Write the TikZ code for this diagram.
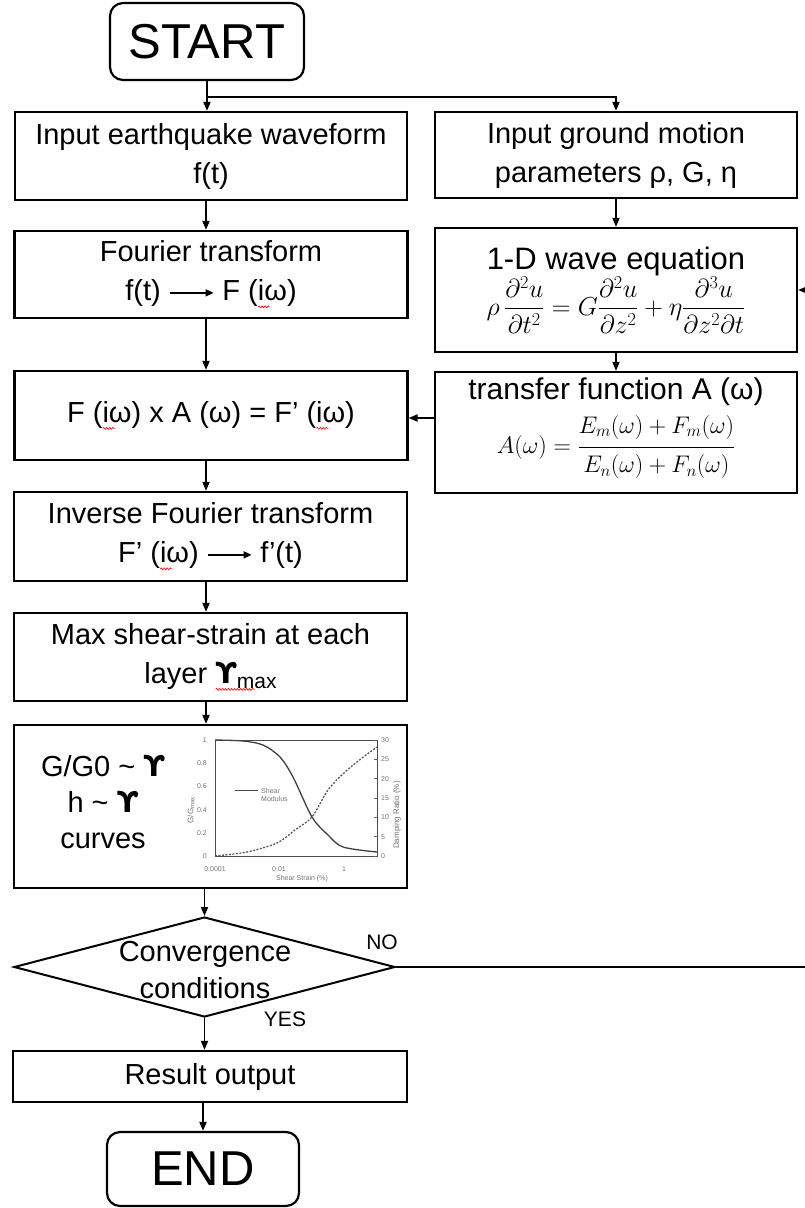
\documentclass[tikz,border=0pt]{standalone}
\usepackage{fix-cm}
\usepackage{amsmath}
\usepackage{fontspec}
\setmainfont{Liberation Sans}
\newfontfamily\djv{DejaVu Sans}
\usetikzlibrary{arrows.meta,shapes.geometric,decorations.pathmorphing}
\newcommand\sqw[1]{\rlap{\tikz[baseline=0pt]\draw[red, line width=0.6pt, decorate, decoration={snake, amplitude=1pt, segment length=3pt}] (0pt,-6pt) -- (#1,-6pt);}}
\newcommand\gam{{\djv\bfseries ϒ}}
\newcommand\larr{\tikz[baseline=-8pt]\draw[line width=1.6pt,-{Triangle[length=8pt,width=7pt]}] (0pt,0pt) -- (44pt,0pt);}
\tikzset{
  box/.style={draw, line width=2.2pt, inner sep=0pt, align=center, font=\fontsize{29}{39}\selectfont},
  term/.style={box, rounded corners=13pt, font=\fontsize{49}{55}\selectfont},
  arr/.style={line width=1.8pt, -{Triangle[length=9pt,width=7pt]}},
  lbl/.style={inner sep=0pt, font=\fontsize{21}{25}\selectfont},
  tick/.style={inner sep=0pt, text=black!55, font=\fontsize{7}{8}\selectfont},
  axt/.style={inner sep=0pt, text=black!55, font=\fontsize{8}{9}\selectfont},
  plain/.style={inner sep=0pt, align=center},
}
\begin{document}
\begin{tikzpicture}[x=1pt,y=-1pt]
\useasboundingbox (0,0) rectangle (805,1208);
\clip (0,0) rectangle (805,1208);

% ---- nodes ----
\node[term, minimum width=194pt, minimum height=77pt] (start) at (207,41.5) {START};
\node[box, minimum width=392pt, minimum height=88pt] (in1) at (211,156) {Input earthquake waveform\\f(t)};
\node[box, minimum width=362pt, minimum height=86pt] (in2) at (616,155) {Input ground motion\\parameters ρ, G, η};
\node[box, minimum width=393pt, minimum height=87pt] (ft) at (211,274.5) {Fourier transform\\f(t) \larr{} F (\sqw{12pt}iω)};
\node[box, minimum width=362pt, minimum height=124pt] (wave) at (616,290)
  {{\fontsize{31}{37}\selectfont 1-D wave equation}\\[0pt]
   {\fontsize{26}{30}\selectfont$\displaystyle\rho\,\frac{\partial^2u}{\partial t^2}=G\frac{\partial^2u}{\partial z^2}+\eta\frac{\partial^3u}{\partial z^2\partial t}$}};
\node[box, minimum width=393pt, minimum height=89pt] (mult) at (211,415.5) {F (\sqw{12pt}iω) x A (ω) = F’ (\sqw{12pt}iω)};
\node[box, minimum width=362pt, minimum height=121pt] (tf) at (616,432.5) {};
\node[plain, font=\fontsize{30}{36}\selectfont] (tft) at (616,392) {transfer function A (ω)};
\node[plain, font=\fontsize{24}{28}\selectfont] (tfm) at (616,447)
  {$\displaystyle A(\omega)=\frac{E_m(\omega)+F_m(\omega)\rule[-11pt]{0pt}{11pt}}{\rule{0pt}{22pt}E_n(\omega)+F_n(\omega)}$};
\node[box, minimum width=393pt, minimum height=89pt] (ift) at (210.5,536.5) {Inverse Fourier transform\\F’ (\sqw{12pt}iω) \larr{} f’(t)};
\node[box, minimum width=393pt, minimum height=88pt] (ms) at (210.5,657) {Max shear-strain at each\\layer \sqw{39pt}\gam\raisebox{-5pt}{\fontsize{21}{21}\selectfont max}};
\node[box, minimum width=393pt, minimum height=163pt] (cur) at (210.5,806.5) {};
\node[plain, font=\fontsize{29}{36}\selectfont] (ctxt) at (103,802) {G/G0 \textasciitilde{} \gam\\h \textasciitilde{} \gam\\curves};
\node[diamond, draw, line width=2pt, minimum width=381pt, minimum height=100pt, inner sep=0pt] (dia) at (204.5,967) {};
\node[plain, font=\fontsize{29}{37}\selectfont] (dtxt) at (205,970) {Convergence\\conditions};
\node[lbl] (no) at (382,942) {NO};
\node[lbl] (yes) at (285,1019) {YES};
\node[box, minimum width=394pt, minimum height=51pt] (res) at (210,1076.5) {Result output};
\node[term, minimum width=192pt, minimum height=74pt] (end) at (203,1169) {END};

% ---- chart inside curves box ----
\draw[black!70, line width=0.8pt] (215,740) rectangle (377,856);
\foreach \v/\y [count=\i] in {1/740,0.8/763.2,0.6/786.4,0.4/809.6,0.2/832.8,0/856}{
  \node[tick, anchor=east] (gl\i) at (207,\y) {\v};
}
\foreach \v/\y [count=\i] in {30/740,25/759.3,20/778.7,15/798,10/817.3,5/836.7,0/856}{
  \node[tick, anchor=west] (dl\i) at (381,\y) {\v};
  \draw[black!60, line width=0.5pt] (377,\y) -- (374,\y);
}
\node[tick, anchor=north] (x1) at (215,866) {0.0001};
\node[tick, anchor=north] (x2) at (279,866) {0.01};
\node[tick, anchor=north] (x3) at (344,866) {1};
\node[tick] (xt) at (302,879) {Shear Strain (\%)};
\node[axt, rotate=90] (yt1) at (191,810) {G/G$_{\max}$};
\node[axt, rotate=90] (yt2) at (397,815) {Damping Ratio (\%)};
\draw[black!70, line width=0.8pt] (235,790) -- (258,790);
\node[tick, anchor=west, align=left] (leg) at (261,794.5) {Shear\\Modulus};
\draw[black!75, line width=1.3pt] plot[smooth] coordinates
  {(215,740) (243,741) (263,745) (280,757) (293,777) (312,817) (328,835) (343,847) (377,852)};
\draw[black!65, line width=1.3pt, dash pattern=on 2pt off 1.5pt] plot[smooth] coordinates
  {(215,856) (247,852) (277,843) (295,830) (312,817) (328,790) (345,772) (362,758) (377,747)};

% ---- connectors ----
\coordinate (cx) at (206,0);
\coordinate (br) at (207,97);
\coordinate (ty) at (0,418);
\coordinate (loopx) at (830,0);
\draw[arr] (start.south) -- (start.south |- in1.north);
\draw[arr] (br) -| (in2.north);
\draw[arr] (in1.south -| cx) -- (ft.north -| cx);
\draw[arr] (in2.south) -- (wave.north);
\draw[arr] (wave.south) -- (tf.north);
\draw[arr] (ft.south -| cx) -- (mult.north -| cx);
\draw[arr] (tf.west |- ty) -- (mult.east |- ty);
\draw[arr] (mult.south -| cx) -- (ift.north -| cx);
\draw[arr] (ift.south -| cx) -- (ms.north -| cx);
\draw[arr] (ms.south -| cx) -- (cur.north -| cx);
\draw[arr] (cur.south -| dia.north) -- (dia.north);
\draw[arr] (dia.south) -- (dia.south |- res.north);
\draw[arr] (res.south -| end.north) -- (end.north);
\draw[arr] (dia.east) -- (dia.east -| loopx) |- (wave.east);
\end{tikzpicture}
\end{document}
